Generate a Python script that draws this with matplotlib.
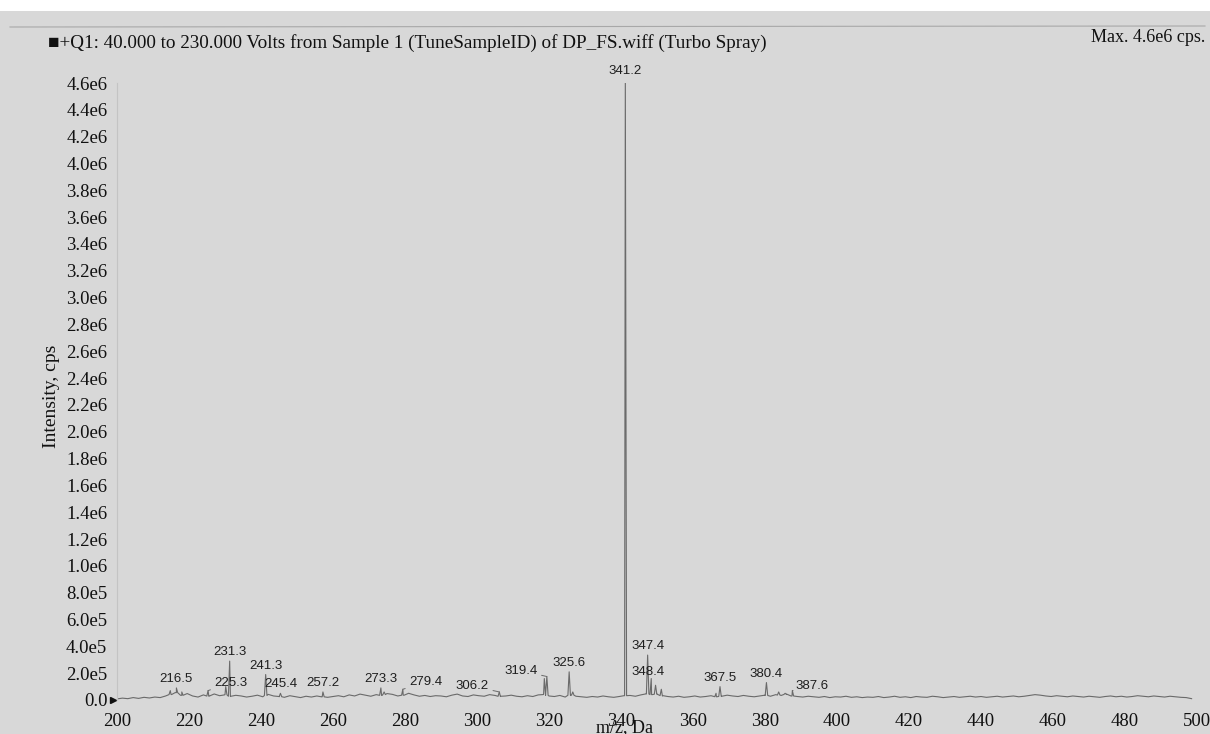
import numpy as np
import matplotlib
matplotlib.use("Agg")
import matplotlib.pyplot as plt
from matplotlib.patches import Rectangle
from matplotlib.lines import Line2D

# labelled peaks: m/z and intensity (cps)
peak_mz = [216.5, 225.3, 231.3, 241.3, 245.4, 257.2, 273.3, 279.4, 306.2,
           319.4, 325.6, 341.2, 347.4, 348.4, 367.5, 380.4, 387.6]
peak_int = [9.0e4, 7.0e4, 2.9e5, 1.9e5, 5.0e4, 6.0e4, 9.0e4, 8.0e4, 6.0e4,
            1.75e5, 2.1e5, 4.62e6, 3.35e5, 1.6e5, 1.0e5, 1.3e5, 7.0e4]

# smaller unlabelled peaks
minor_mz = [214.8, 218.0, 230.2, 274.2, 318.7, 326.6, 349.6, 351.2, 366.4, 383.8, 385.6]
minor_int = [7.0e4, 6.0e4, 1.0e5, 6.0e4, 1.6e5, 6.0e4, 1.1e5, 8.0e4, 5.0e4, 6.0e4, 5.0e4]

# baseline noise, thousands of cps, sampled every 1.5 Da from 200
noise_k = [
    8, 14, 10, 18, 12, 20, 15, 22, 18, 30, 42, 55, 35, 48, 30, 22, 38, 28, 45, 32,
    40, 26, 35, 30, 22, 28, 36, 24, 42, 30, 26, 20, 32, 25, 18, 28, 22, 30, 24, 20,
    26, 32, 24, 38, 30, 44, 36, 28, 40, 34, 48, 42, 30, 36, 50, 38, 28, 34, 26, 32,
    30, 24, 36, 44, 30, 26, 38, 32, 28, 40, 34, 26, 30, 36, 28, 24, 32, 26, 38, 42,
    30, 26, 34, 22, 40, 28, 24, 20, 26, 22, 30, 24, 20, 26, 32, 34, 28, 38, 46, 40,
    44, 30, 26, 22, 28, 20, 24, 30, 22, 26, 32, 24, 28, 36, 30, 26, 34, 28, 24, 30,
    36, 28, 40, 34, 44, 30, 26, 22, 28, 24, 20, 26, 18, 24, 22, 28, 20, 24, 18, 22,
    20, 26, 18, 22, 28, 20, 24, 18, 26, 22, 20, 28, 24, 18, 22, 26, 20, 24, 28, 22,
    26, 20, 24, 28, 22, 26, 30, 24, 28, 34, 40, 36, 30, 26, 32, 28, 24, 30, 26, 22,
    28, 24, 20, 26, 30, 24, 28, 22, 26, 32, 28, 24, 30, 26, 22, 28, 24, 20, 18, 10,
]
noise_mz = 200 + 1.5 * np.arange(len(noise_k))
noise = np.array(noise_k) * 1e3

y_ticks = np.arange(0, 4.6e6 + 1, 2e5)
x_ticks = list(range(200, 501, 20))

title = "\u25a0+Q1: 40.000 to 230.000 Volts from Sample 1 (TuneSampleID) of DP_FS.wiff (Turbo Spray)"

BG = "#d8d8d8"
LINE = "#6a6a6a"
SERIF = ["Liberation Serif", "DejaVu Serif"]
SANS = ["Liberation Sans", "DejaVu Sans"]


def ytick_label(v):
    if v == 0:
        return "0.0"
    if v < 1e6:
        return f"{v / 1e5:.1f}e5"
    return f"{v / 1e6:.1f}e6"


def build_profile():
    # noise polyline with narrow triangular peaks merged in
    xs = list(noise_mz)
    ys = list(noise)
    w = 0.35
    for m, h in zip(peak_mz + minor_mz, peak_int + minor_int):
        b = np.interp(m, noise_mz, noise)
        xs += [m - w, m, m + w]
        ys += [b, h, b]
    order = np.argsort(xs, kind="stable")
    return np.array(xs)[order], np.array(ys)[order]


fig = plt.figure(figsize=(12.10, 7.34), dpi=100, facecolor=BG)
W, H = 1210, 734

# white strip at the top of the scan
fig.patches.append(Rectangle((0, 1 - 11 / H), 1, 11 / H, transform=fig.transFigure,
                             facecolor="white", edgecolor="none", zorder=0))
fig.lines.append(Line2D([10 / W, 1205 / W], [1 - 27 / H, 1 - 26 / H],
                        transform=fig.transFigure, color="#a8a8a8", lw=0.8))

ax = fig.add_axes([117 / W, 34 / H, (1197 - 117) / W, (700 - 83) / H])
ax.set_facecolor("none")
for s in ["top", "right", "bottom"]:
    ax.spines[s].set_visible(False)
ax.spines["left"].set_color("#c4c4c4")
ax.spines["left"].set_linewidth(0.8)

px, py = build_profile()
ax.plot(px, py, color=LINE, lw=0.8)

ax.set_xlim(200, 500)
ax.set_ylim(0, 4.6e6)
ax.set_xticks(x_ticks)
ax.set_xticklabels([str(t) for t in x_ticks], fontfamily=SERIF, fontsize=13.5, color="#111111")
ax.set_yticks(y_ticks)
ax.set_yticklabels([ytick_label(v) for v in y_ticks], fontfamily=SERIF, fontsize=13.5, color="#111111")
ax.tick_params(axis="both", length=0)
ax.tick_params(axis="x", pad=9)
ax.tick_params(axis="y", pad=7)

# small arrow marker after the 0.0 label
ax.plot([-0.004], [0], marker=">", ms=5, color="#111111",
        transform=ax.get_yaxis_transform(), clip_on=False)

# peak labels: (dx, dy) pixel offsets of the text centre from the peak top
offsets = {225.3: (23, 8), 279.4: (23, 7), 306.2: (-27, 6), 319.4: (-26, 6),
           387.6: (20, 5), 348.4: (-3, 7)}
leaders = {225.3, 279.4, 306.2, 319.4, 387.6}
for m, h in zip(peak_mz, peak_int):
    dx, dy = offsets.get(m, (0, 9))
    props = dict(arrowstyle="-", color=LINE, lw=0.7, shrinkA=1, shrinkB=0) if m in leaders else None
    ax.annotate(f"{m:.1f}", xy=(m, h), xytext=(dx, dy), textcoords="offset pixels",
                ha="center", va="center", fontsize=9.5, fontfamily=SANS,
                color="#1e1e1e", arrowprops=props, annotation_clip=False)

fig.text(48 / W, 1 - 43 / H, title, fontfamily=SERIF, fontsize=13.8, color="#111111",
         ha="left", va="center")
fig.text(1205 / W, 1 - 37 / H, "Max. 4.6e6 cps.", fontfamily=SERIF, fontsize=13,
         color="#111111", ha="right", va="center")
fig.text(52 / W, 1 - 396 / H, "Intensity, cps", fontfamily=SERIF, fontsize=14,
         color="#111111", rotation=90, ha="center", va="center")
fig.text(625 / W, 1 - 728 / H, "m/z, Da", fontfamily=SERIF, fontsize=13,
         color="#111111", ha="center", va="center")

fig.savefig("out.png", dpi=100, facecolor=BG)
